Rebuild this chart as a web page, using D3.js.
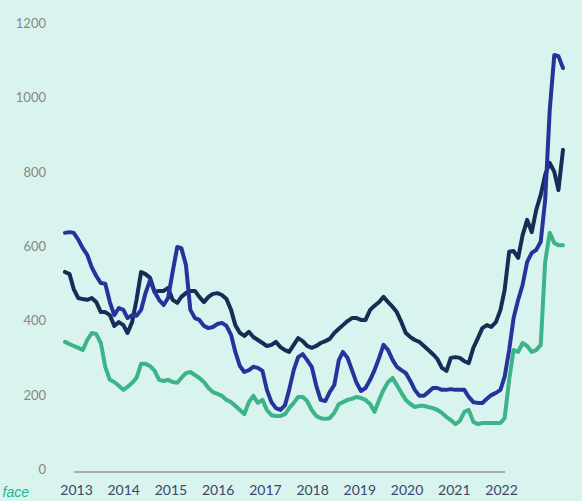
<!DOCTYPE html>
<html>
<head>
<meta charset="utf-8">
<script src="https://cdn.jsdelivr.net/npm/d3@7"></script>
<style>
  html, body { margin: 0; padding: 0; background: #d9f4ef; }
  svg { display: block; }
</style>
</head>
<body>
<svg id="chart"></svg>
<script>
const width = 582;
const height = 501;

// monthly, Jan 2013 .. Apr 2022
const startMonth = new Date(2013, 0, 1);
const endMonth = new Date(2022, 3, 1);

const years = ["2013", "2014", "2015", "2016", "2017", "2018", "2019", "2020", "2021", "2022"];
const yTicks = [0, 200, 400, 600, 800, 1000, 1200];

const navy = [
  531, 525, 485, 461, 458, 456, 461, 450, 423, 423, 415, 386,
  396, 388, 367, 396, 456, 531, 525, 515, 477, 480, 480, 488,
  456, 448, 464, 474, 480, 480, 464, 450, 464, 472, 474, 469,
  458, 429, 388, 367, 359, 370, 356, 348, 340, 332, 335, 343,
  329, 321, 316, 335, 353, 345, 332, 327, 332, 340, 345, 351,
  367, 378, 388, 399, 407, 407, 402, 402, 429, 440, 450, 464,
  450, 437, 423, 396, 367, 356, 348, 343, 332, 321, 310, 297,
  273, 265, 300, 302, 300, 291, 286, 327, 353, 380, 388, 383,
  396, 429, 482, 585, 587, 569, 630, 671, 638, 697, 738, 792,
  824, 800, 751, 859
];

const blue = [
  636, 638, 636, 618, 595, 577, 544, 520, 501, 499, 450, 415,
  434, 429, 407, 415, 413, 429, 474, 509, 477, 456, 442, 461,
  531, 598, 595, 550, 429, 407, 402, 386, 380, 383, 391, 394,
  386, 362, 316, 278, 262, 267, 276, 273, 265, 214, 181, 165,
  160, 173, 214, 267, 302, 310, 294, 276, 225, 187, 184, 208,
  227, 294, 316, 300, 267, 233, 211, 219, 241, 267, 300, 335,
  321, 294, 276, 267, 259, 238, 214, 198, 198, 208, 219, 219,
  214, 214, 216, 214, 214, 214, 195, 181, 179, 179, 190, 200,
  206, 214, 249, 321, 407, 456, 496, 558, 582, 590, 612, 724,
  966, 1114, 1111, 1079
];

const green = [
  343, 337, 332, 327, 321, 348, 367, 364, 340, 276, 241, 235,
  225, 214, 222, 233, 246, 284, 284, 278, 265, 241, 238, 241,
  235, 233, 246, 259, 262, 254, 246, 235, 219, 208, 203, 198,
  187, 181, 171, 160, 149, 181, 198, 179, 187, 160, 146, 144,
  144, 149, 165, 179, 195, 195, 184, 160, 144, 138, 136, 138,
  152, 176, 181, 187, 190, 195, 192, 187, 176, 155, 187, 214,
  235, 246, 227, 206, 187, 176, 168, 171, 171, 168, 165, 160,
  152, 141, 133, 122, 130, 155, 160, 128, 122, 125, 125, 125,
  125, 125, 138, 241, 321, 316, 340, 332, 316, 321, 335, 558,
  636, 609, 603, 603
];

const seriesList = [
  { name: "green", values: green, color: "#3cb388" },
  { name: "navy", values: navy, color: "#142e57" },
  { name: "blue", values: blue, color: "#25349b" }
];

const months = d3.timeMonth.range(startMonth, d3.timeMonth.offset(endMonth, 1));

const svg = d3.select("#chart")
  .attr("width", width)
  .attr("height", height);

svg.append("rect")
  .attr("width", width)
  .attr("height", height)
  .attr("fill", "#d9f4ef");

const x = d3.scaleTime()
  .domain([startMonth, endMonth])
  .range([65, 563]);

const y = d3.scaleLinear()
  .domain([0, 1200])
  .range([469.5, 23]);

const xLabels = d3.scalePoint()
  .domain(years)
  .range([76, 501]);

// y axis labels
const yAxis = svg.append("g")
  .attr("transform", "translate(46,0)")
  .call(d3.axisLeft(y).tickValues(yTicks).tickSize(0).tickPadding(0).tickFormat(d3.format("d")));
yAxis.select(".domain").remove();
yAxis.selectAll("text")
  .attr("fill", "#8b8580")
  .style("font-family", "Lato, 'Open Sans', sans-serif")
  .style("font-size", "13px");

// x axis
const xAxis = svg.append("g")
  .attr("transform", "translate(0,472)")
  .call(d3.axisBottom(xLabels).tickSize(0).tickPadding(13));
xAxis.select(".domain")
  .attr("d", "M74,0H505")
  .attr("stroke", "#a9aaa8")
  .attr("stroke-width", 2);
xAxis.selectAll("text")
  .attr("fill", "#3c4766")
  .style("font-family", "Lato, 'Open Sans', sans-serif")
  .style("font-size", "14px");

// lines
const line = d3.line()
  .x((d, i) => x(months[i]))
  .y(d => y(d));

svg.append("g")
  .selectAll("path")
  .data(seriesList)
  .join("path")
  .attr("d", d => line(d.values))
  .attr("fill", "none")
  .attr("stroke", d => d.color)
  .attr("stroke-width", 4)
  .attr("stroke-linejoin", "round")
  .attr("stroke-linecap", "round");

// cut-off caption at the bottom left
svg.append("text")
  .attr("x", 29)
  .attr("y", 497)
  .attr("text-anchor", "end")
  .attr("fill", "#1fb48e")
  .style("font-family", "'Liberation Sans', Arial, sans-serif")
  .style("font-style", "italic")
  .style("font-size", "14px")
  .text("face");
</script>
</body>
</html>
